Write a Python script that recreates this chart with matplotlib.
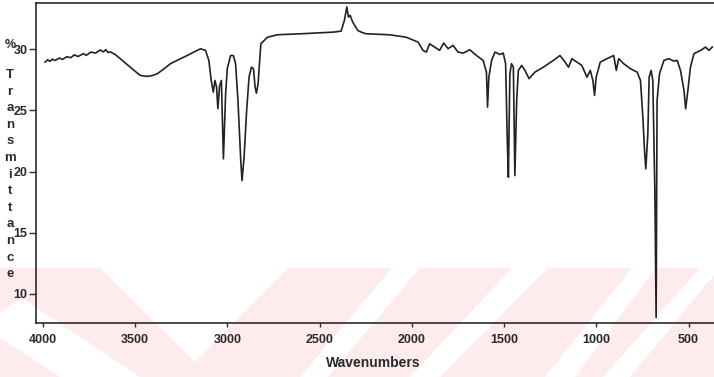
import matplotlib
matplotlib.use("Agg")
import matplotlib.pyplot as plt
from matplotlib.patches import Polygon

# IR spectrum (wavenumber cm-1, %T)
wavenumber = [3989, 3975, 3962, 3950, 3935, 3910, 3895, 3871, 3850, 3830, 3810,
              3781, 3765, 3740, 3715, 3690, 3672, 3660, 3648, 3636, 3610,
              3581, 3555, 3527, 3500, 3472, 3436, 3410, 3381, 3345, 3309, 3260,
              3218, 3180, 3146, 3119, 3101, 3088, 3077, 3068, 3059, 3052, 3043,
              3033, 3022, 3010, 3001, 2983, 2968, 2956, 2943, 2928, 2921, 2910,
              2896, 2883, 2870, 2859, 2850, 2843, 2834, 2819, 2783, 2729, 2602,
              2421, 2384, 2366, 2353, 2344, 2335, 2321, 2294, 2276, 2248, 2122,
              2031, 1967, 1940, 1922, 1904, 1877, 1850, 1828, 1804, 1777, 1750,
              1722, 1686, 1650, 1614, 1596, 1590, 1583, 1568, 1550, 1523, 1505,
              1492, 1483, 1477, 1469, 1460, 1450, 1442, 1432, 1423, 1405, 1387,
              1365, 1333, 1287, 1233, 1197, 1170, 1151, 1133, 1106, 1079, 1051,
              1033, 1019, 1010, 1001, 979, 943, 906, 892, 879, 852, 815, 779,
              761, 748, 739, 732, 721, 714, 703, 694, 683, 676, 671, 658, 634,
              607, 580, 562, 544, 525, 516, 504, 490, 471, 435, 408, 390, 372]
transmittance = [28.96, 29.15, 29.02, 29.20, 29.10, 29.30, 29.18, 29.40, 29.32,
                 29.55, 29.42, 29.65, 29.52, 29.78, 29.70, 29.95, 29.80, 29.98,
                 29.75, 29.80, 29.60,
                 29.24, 28.90, 28.55, 28.20, 27.87, 27.79, 27.85,
                 28.00, 28.40, 28.83, 29.20, 29.50, 29.80, 30.05, 29.92, 29.10,
                 27.46, 26.50, 27.46, 26.90, 25.14, 27.00, 27.46, 21.04, 26.37,
                 28.42, 29.50, 29.50, 28.83, 25.80, 20.90, 19.26, 21.17, 25.00,
                 27.73, 28.55, 28.42, 26.90, 26.42, 27.19, 30.46, 31.00, 31.20,
                 31.28, 31.42, 31.50, 32.38, 33.47, 32.65, 32.79, 32.24, 31.56,
                 31.42, 31.28, 31.20, 31.00, 30.60, 29.92, 29.78, 30.46, 30.19,
                 29.92, 30.52, 30.06, 30.33, 29.78, 29.70, 29.97, 29.50, 29.10,
                 28.14, 25.27, 27.73, 29.10, 29.78, 29.59, 29.70, 28.83, 22.54,
                 19.53, 28.00, 28.83, 28.55, 19.67, 25.82, 28.28, 28.69, 28.28,
                 27.60, 28.14, 28.55, 29.10, 29.50, 28.96, 28.55, 29.24, 28.96,
                 28.69, 27.73, 28.28, 27.46, 26.23, 27.73, 28.96, 29.24, 29.50,
                 28.28, 29.24, 28.83, 28.42, 28.14, 27.46, 24.45, 21.72, 20.22,
                 23.09, 27.73, 28.28, 27.46, 18.40, 8.05, 25.80, 28.00, 29.10,
                 29.24, 29.04, 29.10, 28.28, 26.64, 25.14, 26.64, 28.55, 29.65,
                 29.92, 30.19, 29.92, 30.19]

x_ticks = [4000, 3500, 3000, 2500, 2000, 1500, 1000, 500]
y_ticks = [10, 15, 20, 25, 30]
ylabel_letters = list("Transmittance")

W, H = 714, 377
FONT = ["Liberation Sans", "DejaVu Sans"]
INK = "#2a2a2a"

fig = plt.figure(figsize=(W / 100, H / 100), dpi=100)


def px(points):
    return [(x / W, 1 - y / H) for x, y in points]


# faint pink watermark in the lower part of the scan
fig.patches.append(Polygon(px([(0, 268), (W, 268), (W, H), (0, H)]),
                           closed=True, transform=fig.transFigure,
                           facecolor="#fdebee", edgecolor="none", zorder=-10))
white_bits = [
    [(100, 268), (288, 268), (195, 362)],
    [(0, 312), (22, 298), (140, 377), (60, 377), (0, 338)],
    [(392, 268), (420, 268), (328, 377), (300, 377)],
    [(512, 268), (548, 268), (440, 377), (410, 377)],
    [(632, 268), (656, 268), (575, 377), (545, 377)],
    [(700, 268), (714, 268), (714, 275), (630, 377), (603, 377)],
]
for pts in white_bits:
    fig.patches.append(Polygon(px(pts), closed=True, transform=fig.transFigure,
                               facecolor="white", edgecolor="none", zorder=-9))

ax = fig.add_axes([36 / W, 1 - 323 / H, 0.96, (323 - 3) / H])
ax.set_facecolor("none")
ax.plot(wavenumber, transmittance, color="#222222", lw=1.2)

ax.set_xlim(4038, 322)
ax.set_ylim(7.6, 33.8)
ax.set_xticks(x_ticks)
ax.set_yticks(y_ticks)
ax.tick_params(axis="x", direction="out", length=3, width=1, pad=5,
               labelsize=9, colors=INK)
ax.tick_params(axis="y", direction="out", length=5, width=1, pad=1,
               labelsize=9, colors=INK)
for lbl in ax.get_xticklabels() + ax.get_yticklabels():
    lbl.set_fontweight("bold")
    lbl.set_family(FONT)
for side in ["left", "bottom", "top"]:
    ax.spines[side].set_color(INK)
    ax.spines[side].set_linewidth(1.2)
ax.spines["right"].set_visible(False)

fig.text(373 / W, 1 - 363 / H, "Wavenumbers", ha="center", va="center",
         fontsize=10, fontweight="bold", family=FONT, color=INK)
fig.text(10 / W, 1 - 45 / H, "%", ha="center", va="center",
         fontsize=9, fontweight="bold", family=FONT, color=INK)
for i, ch in enumerate(ylabel_letters):
    fig.text(10 / W, 1 - (75 + i * 16.6) / H, ch, ha="center", va="center",
             fontsize=9.5, fontweight="bold", family=FONT, color=INK)

fig.savefig("out.png", dpi=100)
